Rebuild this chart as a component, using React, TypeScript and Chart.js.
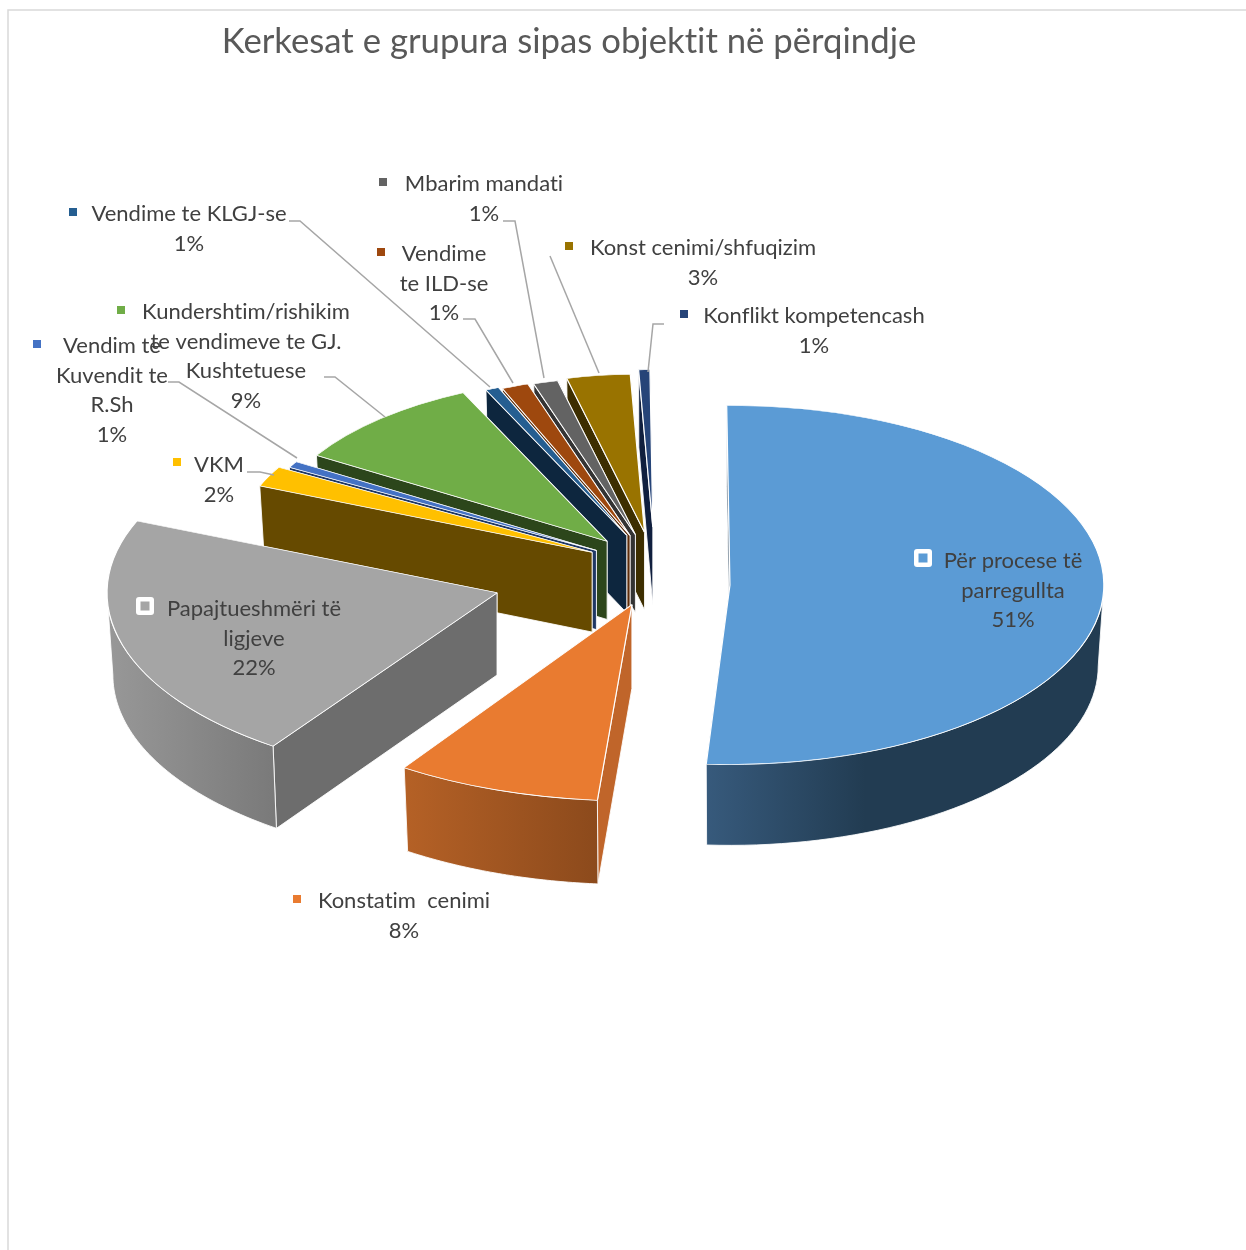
import React, { useEffect, useRef } from "react";
import { Chart, registerables } from "chart.js";

Chart.register(...registerables);

const TITLE = "Kerkesat e grupura sipas objektit në përqindje";
const categories = [
  "Për procese të parregullta",
  "Konstatim  cenimi",
  "Papajtueshmëri të ligjeve",
  "VKM",
  "Vendim te Kuvendit te R.Sh",
  "Kundershtim/rishikim te vendimeve te GJ. Kushtetuese",
  "Vendime te KLGJ-se",
  "Vendime te ILD-se",
  "Mbarim mandati",
  "Konst cenimi/shfuqizim",
  "Konflikt kompetencash",
];
const values = [51.2, 8.4, 21.9, 1.9, 0.6, 9.3, 0.65, 1.3, 1.2, 3.1, 0.55];
const percentLabels = ["51%", "8%", "22%", "2%", "1%", "9%", "1%", "1%", "1%", "3%", "1%"];
const labelLines = [
  ["Për procese të", "parregullta"],
  ["Konstatim  cenimi"],
  ["Papajtueshmëri të", "ligjeve"],
  ["VKM"],
  ["Vendim te", "Kuvendit te", "R.Sh"],
  ["Kundershtim/rishikim", "te vendimeve te GJ.", "Kushtetuese"],
  ["Vendime te KLGJ-se"],
  ["Vendime", "te ILD-se"],
  ["Mbarim mandati"],
  ["Konst cenimi/shfuqizim"],
  ["Konflikt kompetencash"],
];
const topColors = ["#5b9bd5", "#e97b30", "#a5a5a5", "#ffc000", "#4472c4", "#70ad47", "#255e91", "#9e480e", "#636363", "#997300", "#264478"];
const wallColors = ["#223d55", "#c0652a", "#6d6d6d", "#664a00", "#1f3864", "#2c461b", "#0d263e", "#5e2d0a", "#333333", "#3d2e00", "#101f3e"];
const rimFrom = ["#375a7c", "#b56126", "#989898", "#664a00", "#1f3864", "#2c461b", "#0d263e", "#5e2d0a", "#333333", "#3d2e00", "#101f3e"];
const rimTo = ["#223c52", "#8c4a1c", "#7a7a7a", "#664a00", "#1f3864", "#2c461b", "#0d263e", "#5e2d0a", "#333333", "#3d2e00", "#101f3e"];

// 3D look: how far each slice is pulled out, its perspective radius factor, a vertical nudge,
// and the small perspective shift (degrees) of a slice's leading edge
const explode = [75, 72, 165, 70, 68, 72, 70, 72, 72, 75, 85];
const radiusFactor = [0.997, 1.09, 1.04, 0.96, 0.94, 0.91, 0.89, 0.885, 0.88, 0.88, 0.875];
const yNudge = [14, 2, 0, -3, -3, -3, -4, -2, -2, -2, -2];
const startShift = [0, 1.2, 1.2, 0, 0, 0, 0, 0, 0, 0, 0];
const paintOrder = [10, 9, 8, 7, 6, 5, 4, 3, 0, 2, 1];

const CENTER_X = 655;
const CENTER_Y = 570;
const BASE_RADIUS = 375;
const TILT = 0.48;
const BOTTOM_TAPER = 0.985;

// label placement: centre x, first line y, marker x, marker y
const labelPlace = [
  [1013, 561, 923, 558],
  [404, 901, 297, 899],
  [254, 609, 145, 606],
  [219, 465, 177, 462],
  [112, 346, 37, 344],
  [246, 312, 121, 310],
  [189, 214, 73, 212],
  [444, 254, 381, 252],
  [484, 184, 383, 182],
  [703, 248, 569, 246],
  [814, 316, 684, 314],
];
const leaderLines: (number[][] | null)[] = [
  null,
  null,
  null,
  [[247, 472], [260, 472], [274, 475]],
  [[168, 382], [179, 382], [297, 458]],
  [[324, 377], [335, 377], [385, 417]],
  [[289, 221], [300, 221], [490, 387]],
  [[463, 319], [475, 319], [513, 383]],
  [[503, 221], [515, 221], [544, 378]],
  [[550, 256], [599, 373]],
  [[664, 324], [653, 324], [648, 372]],
];
const selectedMarkers = [0, 2];

const FONT = "Lato, 'Open Sans', sans-serif";

const pie3d = {
  id: "pie3d",
  afterDatasetsUpdate(chart: any) {
    const arcs = chart.getDatasetMeta(0).data;
    arcs.forEach((arc: any, i: number) => {
      const mid = (arc.startAngle + arc.endAngle) / 2;
      arc.x = CENTER_X + explode[i] * Math.cos(mid);
      arc.y = CENTER_Y + explode[i] * Math.sin(mid) + yNudge[i] / TILT;
      arc.outerRadius = BASE_RADIUS * radiusFactor[i];
      arc.innerRadius = 0;
      arc.startAngle += (startShift[i] * Math.PI) / 180;
    });
  },
  beforeDraw(chart: any) {
    const ctx = chart.ctx;
    ctx.save();
    ctx.fillStyle = "#ffffff";
    ctx.fillRect(0, 0, chart.width, chart.height);
    ctx.strokeStyle = "#d9d9d9";
    ctx.lineWidth = 1.5;
    ctx.beginPath();
    ctx.moveTo(8, chart.height);
    ctx.lineTo(8, 10);
    ctx.lineTo(chart.width, 10);
    ctx.stroke();
    ctx.restore();
  },
  beforeDatasetsDraw(chart: any) {
    const ctx = chart.ctx;
    const arcs = chart.getDatasetMeta(0).data;
    paintOrder.forEach((i) => {
      const arc = arcs[i];
      const R = arc.outerRadius;
      const depth = 51 + 30 * radiusFactor[i];
      const sx = arc.x;
      const sy = CENTER_Y + (arc.y - CENTER_Y) * TILT;
      const pt = (a: number): [number, number] => [sx + R * Math.cos(a), sy + TILT * R * Math.sin(a)];
      const low = (a: number): [number, number] => [sx + R * BOTTOM_TAPER * Math.cos(a), sy + TILT * R * Math.sin(a) + depth];
      ctx.save();
      ctx.lineWidth = 1;
      ctx.strokeStyle = "rgba(255,255,255,0.85)";
      ctx.lineJoin = "round";
      [arc.endAngle, arc.startAngle].forEach((a: number) => {
        const p = pt(a);
        const q = low(a);
        ctx.beginPath();
        ctx.moveTo(sx, sy);
        ctx.lineTo(p[0], p[1]);
        ctx.lineTo(q[0], q[1]);
        ctx.lineTo(sx, sy + depth);
        ctx.closePath();
        ctx.fillStyle = wallColors[i];
        ctx.fill();
        ctx.stroke();
      });
      const from = Math.max(arc.startAngle, 0);
      const to = Math.min(arc.endAngle, Math.PI);
      if (to > from) {
        const a0 = pt(from);
        const a1 = pt(to);
        const xs = [a0[0], a1[0]];
        if (from < Math.PI && to >= Math.PI) xs.push(sx - R);
        const minX = Math.min(...xs);
        const maxX = Math.max(...xs);
        const g = ctx.createLinearGradient(minX, 0, maxX, 0);
        g.addColorStop(0, rimFrom[i]);
        g.addColorStop(i === 0 ? 0.4 : 1, rimTo[i]);
        g.addColorStop(1, rimTo[i]);
        ctx.beginPath();
        ctx.moveTo(a0[0], a0[1]);
        const N = 48;
        for (let s = 1; s <= N; s++) {
          const p = pt(from + ((to - from) * s) / N);
          ctx.lineTo(p[0], p[1]);
        }
        for (let s = N; s >= 0; s--) {
          const p = low(from + ((to - from) * s) / N);
          ctx.lineTo(p[0], p[1]);
        }
        ctx.closePath();
        ctx.fillStyle = g;
        ctx.fill();
        ctx.stroke();
      }
      ctx.restore();
    });
    ctx.save();
    ctx.translate(0, CENTER_Y);
    ctx.scale(1, TILT);
    ctx.translate(0, -CENTER_Y);
  },
  afterDatasetsDraw(chart: any) {
    chart.ctx.restore();
  },
  afterDraw(chart: any) {
    const ctx = chart.ctx;
    ctx.save();
    ctx.textBaseline = "middle";
    ctx.textAlign = "center";
    ctx.letterSpacing = "0.01px";
    ctx.fillStyle = "#595959";
    ctx.font = `34.7px ${FONT}`;
    ctx.fillText(TITLE, 569, 42);

    leaderLines.forEach((line) => {
      if (!line) return;
      ctx.strokeStyle = "#a6a6a6";
      ctx.lineWidth = 1.5;
      ctx.beginPath();
      line.forEach((p, k) => (k === 0 ? ctx.moveTo(p[0], p[1]) : ctx.lineTo(p[0], p[1])));
      ctx.stroke();
    });

    ctx.font = `22px ${FONT}`;
    categories.forEach((_, i) => {
      const [x, y, mx, my] = labelPlace[i];
      const lines = [...labelLines[i], percentLabels[i]];
      ctx.fillStyle = "#404040";
      lines.forEach((t, k) => ctx.fillText(t, x, y + k * 29.6));
      if (selectedMarkers.includes(i)) {
        ctx.fillStyle = "#ffffff";
        ctx.beginPath();
        ctx.roundRect(mx - 9, my - 9, 18, 18, 3);
        ctx.fill();
        ctx.fillStyle = topColors[i];
        ctx.fillRect(mx - 4.5, my - 4.5, 9, 9);
      } else {
        ctx.fillStyle = topColors[i];
        ctx.fillRect(mx - 4, my - 4, 8, 8);
      }
    });
    ctx.restore();
  },
};

export default function App() {
  const ref = useRef<HTMLCanvasElement | null>(null);
  useEffect(() => {
    const chart = new Chart(ref.current as HTMLCanvasElement, {
      type: "pie",
      data: {
        labels: categories,
        datasets: [
          {
            data: values,
            backgroundColor: topColors,
            borderColor: "#ffffff",
            borderWidth: 1.2,
            clip: false,
          } as any,
        ],
      },
      options: {
        responsive: false,
        animation: false,
        rotation: -0.5,
        events: [],
        plugins: { legend: { display: false }, tooltip: { enabled: false }, title: { display: false } },
      },
      plugins: [pie3d],
    } as any);
    return () => chart.destroy();
  }, []);
  return (
    <canvas
      ref={ref}
      width={1246}
      height={1250}
      style={{ position: "fixed", left: 0, top: 0, display: "block" }}
    />
  );
}
